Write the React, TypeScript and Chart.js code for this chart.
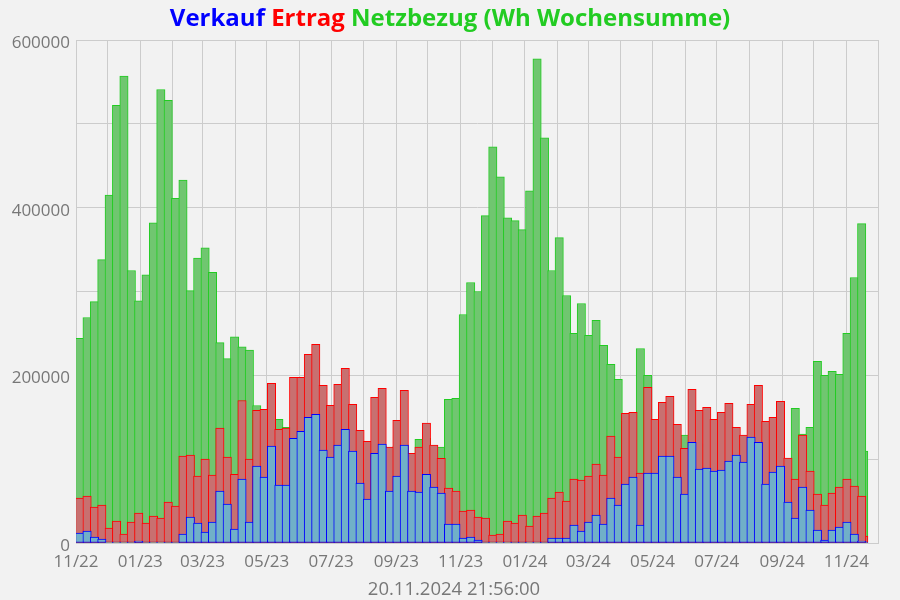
import React, { useEffect, useRef } from 'react';
import { Chart, registerables } from 'chart.js';

Chart.register(...registerables);

// ---- Data ----
const START_UTC = Date.UTC(2022, 10, 1); // first week starts 01.11.2022
const DAY_MS = 86400000;
const WEEK_DAYS = 7;

const MONTH_LABELS = [
  '11/22', '12/22', '01/23', '02/23', '03/23', '04/23', '05/23', '06/23', '07/23', '08/23',
  '09/23', '10/23', '11/23', '12/23', '01/24', '02/24', '03/24', '04/24', '05/24', '06/24',
  '07/24', '08/24', '09/24', '10/24', '11/24', '12/24',
];

const VERKAUF = [
  11900, 14300, 7100, 4800, 1000, 1000, 1000, 1200, 2400, 1200,
  1000, 1000, 1200, 1200, 10700, 31000, 23800, 13100, 25000, 61900,
  46400, 16700, 76200, 25000, 91700, 78600, 115500, 69000, 69000, 125000,
  133300, 150000, 153600, 110700, 102400, 116700, 135700, 109500, 71400, 52400,
  107000, 117900, 61900, 79800, 116700, 61900, 60700, 82000, 66700, 59500,
  22600, 22600, 6000, 7100, 3600, 1200, 1000, 1000, 1000, 1200,
  1200, 1000, 1000, 1200, 6000, 6000, 6000, 21400, 14300, 25000,
  33300, 22600, 53600, 45200, 70200, 78600, 21400, 83300, 83300, 103600,
  103600, 78600, 58300, 120200, 88100, 89300, 85700, 86900, 97600, 104800,
  96400, 126200, 120200, 70200, 84500, 91700, 48800, 29800, 66700, 39300,
  15500, 3600, 15500, 19000, 25000, 10700, 2400,
];

const ERTRAG = [
  53600, 56000, 42900, 45200, 17900, 26200, 10700, 25000, 35700, 23800,
  32000, 29800, 48800, 44000, 103600, 104800, 79800, 100000, 81000, 137000,
  102400, 82000, 170000, 100000, 158300, 159500, 190500, 135700, 137000, 197600,
  197600, 225000, 236900, 188000, 164300, 189300, 208300, 165500, 134500, 121400,
  173800, 184500, 114300, 146400, 182000, 107000, 114300, 142900, 116700, 101000,
  65500, 61900, 38100, 39300, 31000, 29800, 9500, 10700, 26200, 23800,
  33300, 20200, 32000, 35700, 53600, 60700, 50000, 76200, 75000, 79800,
  94000, 81000, 127400, 102400, 154800, 156000, 83300, 185700, 147600, 167900,
  175000, 141700, 113000, 183300, 158300, 161900, 147600, 156000, 166700, 138000,
  128600, 165500, 188000, 145200, 150000, 169000, 101200, 76200, 128600, 85700,
  58300, 45200, 59500, 66700, 76200, 67900, 56000,
];

const NETZBEZUG = [
  244000, 269000, 288000, 338000, 415000, 522000, 557000, 325000, 289000, 320000,
  382000, 541000, 528000, 411000, 433000, 301000, 340000, 352000, 323000, 239000,
  220000, 246000, 234000, 230000, 164000, 150000, 145000, 147600, 138000, 130000,
  125000, 120000, 118000, 122000, 125000, 120000, 118000, 122000, 120000, 115000,
  118000, 116000, 110000, 115000, 117000, 104000, 123800, 125000, 112000, 114300,
  171400, 172600, 272600, 310700, 300000, 390500, 472600, 436900, 388000, 384500,
  373800, 420200, 577400, 483300, 325000, 364300, 295200, 250000, 285700, 247600,
  265500, 235700, 213000, 195200, 145000, 150000, 232000, 200000, 140000, 135000,
  130000, 125000, 128600, 120000, 118000, 115000, 112000, 110000, 112000, 115000,
  118000, 112000, 110000, 115000, 120000, 125000, 98000, 160700, 129800, 138000,
  216700, 200000, 204800, 201200, 250000, 316700, 381000,
];

// running (incomplete) week: 19.11.2024 until 20.11.2024 21:56
const PARTIAL_DAYS = 1.91;
const PARTIAL_VERKAUF = 1000;
const PARTIAL_ERTRAG = 8300;
const PARTIAL_NETZBEZUG = 109500;

const TITLE_PARTS = [
  { text: 'Verkauf', color: '#0000ff' },
  { text: 'Ertrag', color: '#ff0000' },
  { text: 'Netzbezug (Wh Wochensumme)', color: '#22cc22' },
];
const TIMESTAMP = '20.11.2024 21:56:00';

// ---- Helpers ----
const monthDay = (label: string) => {
  const [mm, yy] = label.split('/').map(Number);
  return (Date.UTC(2000 + yy, mm - 1, 1) - START_UTC) / DAY_MS;
};
const MONTH_DAYS = MONTH_LABELS.map(monthDay);
const weekPoints = (vals: number[]) => vals.map((y, i) => ({ x: i * WEEK_DAYS + WEEK_DAYS / 2, y }));
const partialX = VERKAUF.length * WEEK_DAYS + PARTIAL_DAYS / 2;

const BLUE = { bg: 'rgb(112,176,200)', border: '#0000ff' };
const RED = { bg: 'rgb(200,112,112)', border: '#ff0000' };
const GREEN = { bg: 'rgb(112,198,112)', border: '#22cc22' };
const BORDER = 1;
const FONT = '"Open Sans", "Noto Sans", sans-serif';
const GREY = '#777777';
const GRID = '#cccccc';

const textPlugin = {
  id: 'titleAndStamp',
  afterDraw(chart: any) {
    const ctx = chart.ctx as CanvasRenderingContext2D;
    ctx.save();
    // multi-coloured title
    ctx.font = `bold 24px ${FONT}`;
    ctx.textBaseline = 'alphabetic';
    ctx.textAlign = 'left';
    const space = ctx.measureText(' ').width;
    const widths = TITLE_PARTS.map((p) => ctx.measureText(p.text).width);
    const total = widths.reduce((a, b) => a + b, 0) + space * (TITLE_PARTS.length - 1);
    let x = chart.width / 2 - total / 2;
    TITLE_PARTS.forEach((p, i) => {
      ctx.fillStyle = p.color;
      ctx.fillText(p.text, x, 26);
      x += widths[i] + space;
    });
    // timestamp below the x axis
    ctx.font = `18.5px ${FONT}`;
    ctx.fillStyle = GREY;
    ctx.textAlign = 'center';
    ctx.textBaseline = 'middle';
    ctx.fillText(TIMESTAMP, chart.width / 2 + 4, 590);
    ctx.restore();
  },
};

const barDs = (label: string, data: any[], c: { bg: string; border: string }) => ({
  label,
  data,
  backgroundColor: c.bg,
  borderColor: c.border,
  borderWidth: BORDER,
  borderSkipped: false,
  grouped: false,
  barPercentage: 1,
  categoryPercentage: 1,
});

export default function App() {
  const canvasRef = useRef<HTMLCanvasElement | null>(null);

  useEffect(() => {
    if (!canvasRef.current) return;
    Chart.defaults.font.family = FONT;
    const chart = new Chart(canvasRef.current, {
      type: 'bar',
      data: {
        datasets: [
          barDs('Verkauf', weekPoints(VERKAUF), BLUE),
          barDs('Ertrag', weekPoints(ERTRAG), RED),
          barDs('Netzbezug', weekPoints(NETZBEZUG), GREEN),
          barDs('Verkauf (laufend)', [{ x: partialX, y: PARTIAL_VERKAUF }], BLUE),
          barDs('Ertrag (laufend)', [{ x: partialX, y: PARTIAL_ERTRAG }], RED),
          barDs('Netzbezug (laufend)', [{ x: partialX, y: PARTIAL_NETZBEZUG }], GREEN),
        ] as any,
      },
      options: {
        animation: false,
        responsive: false,
        devicePixelRatio: 1,
        layout: { padding: { top: 40, right: 22, left: 0, bottom: 0 } },
        plugins: {
          legend: { display: false },
          title: { display: false },
          tooltip: { enabled: false },
        },
        scales: {
          x: {
            type: 'linear',
            min: MONTH_DAYS[0],
            max: MONTH_DAYS[MONTH_DAYS.length - 1],
            offset: false,
            afterBuildTicks: (s: any) => {
              s.ticks = MONTH_DAYS.map((v) => ({ value: v }));
            },
            afterFit: (s: any) => {
              s.height = 57;
            },
            ticks: {
              autoSkip: false,
              maxRotation: 0,
              minRotation: 0,
              padding: 9,
              color: GREY,
              font: { size: 17 },
              callback: (_v: any, i: number) => (i % 2 === 0 ? MONTH_LABELS[i] : ''),
            },
            grid: { color: GRID, drawTicks: false, offset: false },
            border: { color: GRID },
          },
          y: {
            min: 0,
            max: 600000,
            afterFit: (s: any) => {
              s.width = 76;
            },
            ticks: {
              stepSize: 100000,
              padding: 6,
              labelOffset: 3,
              color: GREY,
              font: { size: 17 },
              callback: (v: any) => (Number(v) % 200000 === 0 ? String(v) : ''),
            },
            grid: { color: GRID, drawTicks: false },
            border: { color: GRID },
          },
        },
      } as any,
      plugins: [textPlugin],
    });

    const applyWidths = () => {
      const xs: any = chart.scales.x;
      const weekPx = xs.getPixelForValue(WEEK_DAYS) - xs.getPixelForValue(0);
      const partPx = xs.getPixelForValue(PARTIAL_DAYS) - xs.getPixelForValue(0);
      chart.data.datasets.forEach((ds: any, i: number) => {
        ds.barThickness = (i < 3 ? weekPx : partPx) + BORDER;
      });
      chart.update();
    };
    applyWidths();
    if ((document as any).fonts && (document as any).fonts.ready) {
      (document as any).fonts.ready.then(() => applyWidths());
    }

    return () => chart.destroy();
  }, []);

  return (
    <div
      style={{
        position: 'fixed',
        left: 0,
        top: 0,
        width: 900,
        height: 600,
        background: '#f2f2f2',
      }}
    >
      <canvas ref={canvasRef} width={900} height={600} style={{ display: 'block' }} />
    </div>
  );
}
